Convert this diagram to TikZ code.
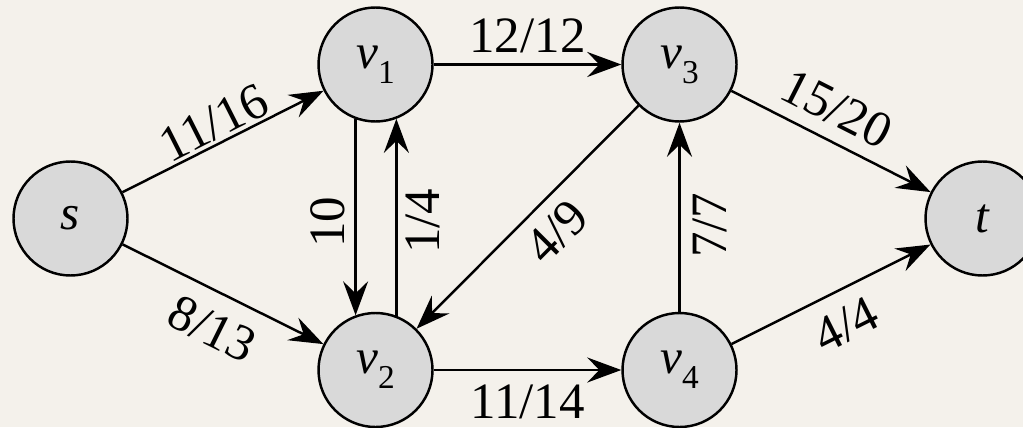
\documentclass[tikz,border=0pt]{standalone}
\usepackage{fontspec}
\setmainfont{Liberation Serif}
\usetikzlibrary{arrows.meta, positioning}
\definecolor{paper}{RGB}{244,241,235}
\definecolor{vtxgray}{RGB}{217,217,217}
\newcommand{\vsub}[1]{\textit{v}\raisebox{-0.3em}{\fontsize{9.5}{10}\selectfont #1}}

\begin{document}
\begin{tikzpicture}[>={Stealth[length=3.4mm, width=2.5mm, inset=1.2mm]}, line width=0.7pt,
    vertex/.style={draw, circle, fill=vtxgray, minimum size=1.14cm, inner sep=0pt,
                   font=\fontsize{14}{16}\selectfont},
    flowlabel/.style={inner sep=0pt, font=\fontsize{14.5}{16}\selectfont}]
  \clip (0,0) rectangle (10.23,4.27);
  \fill[paper] (0,0) rectangle (10.23,4.27);

  % Vertices
  \node[vertex] (s)  at (0.705,2.085) {\textit{s}};
  \node[vertex] (v1) at (3.755,3.625) {\vsub{1}};
  \node[vertex] (v2) at (3.755,0.570) {\vsub{2}};
  \node[vertex] (v3) at (6.795,3.625) {\vsub{3}};
  \node[vertex] (v4) at (6.795,0.570) {\vsub{4}};
  \node[vertex] (t)  at (9.825,2.085) {\textit{t}};

  % Flows
  \draw[->] (s) -- node[flowlabel, sloped, yshift=0.21cm] {11/16} (v1);
  \draw[->] (s) -- node[flowlabel, sloped, xshift=0.06cm, yshift=-0.36cm] {8/13} (v2);
  \draw[->] (v1) -- node[flowlabel, yshift=0.29cm] {12/12} (v3);
  \draw[->] (v2) -- node[flowlabel, yshift=-0.32cm] {11/14} (v4);
  \draw[->] (v3) -- node[flowlabel, sloped, xshift=-0.1cm, yshift=0.32cm] {15/20} (t);
  \draw[->] (v4) -- node[flowlabel, sloped, yshift=-0.34cm] {4/4} (t);
  \draw[->] (v3) -- node[flowlabel, sloped, xshift=0.1cm, yshift=-0.31cm] {4/9} (v2);
  \draw[->] (v1.-110.5) -- node[flowlabel, xshift=-0.28cm, yshift=-0.05cm, rotate=90] {10} (v2.110.5);
  \draw[->] (v2.69.5) -- node[flowlabel, xshift=0.27cm, yshift=-0.04cm, rotate=90] {1/4} (v1.-69.5);
  \draw[->] (v4) -- node[flowlabel, xshift=0.3cm, yshift=-0.08cm, rotate=90] {7/7} (v3);
\end{tikzpicture}
\end{document}
